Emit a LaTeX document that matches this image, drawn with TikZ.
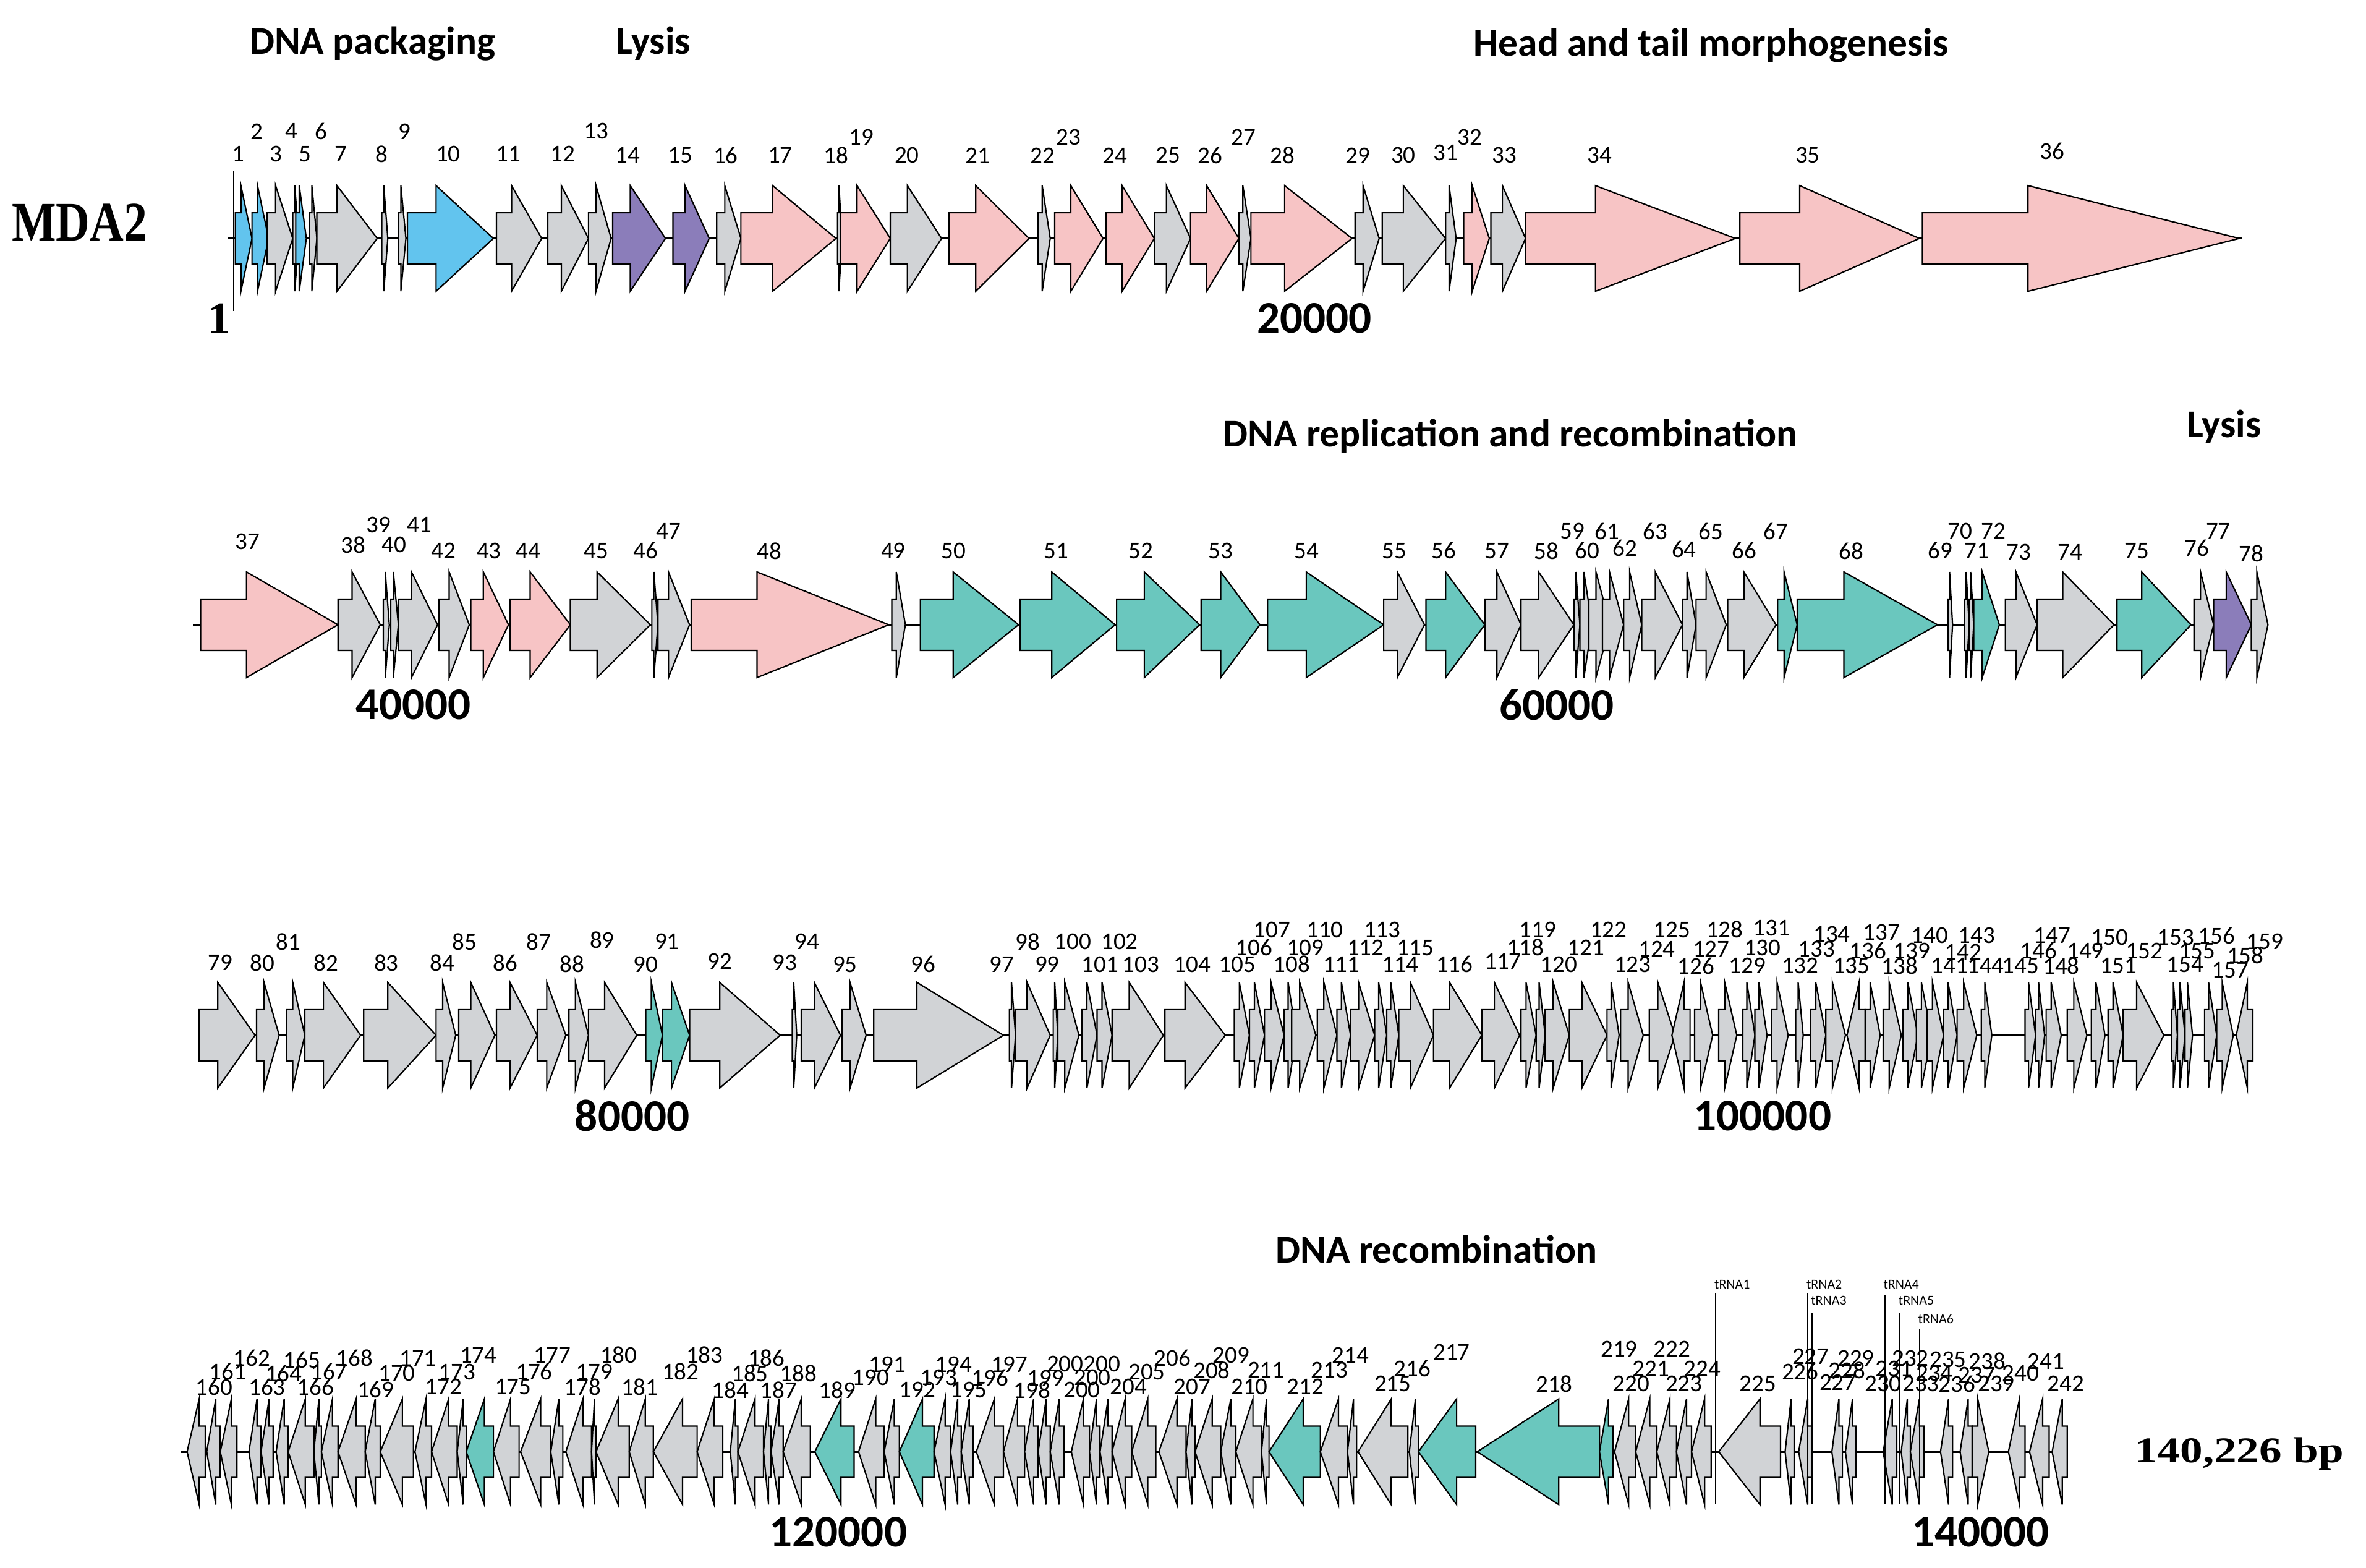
\documentclass[tikz,border=0pt]{standalone}
\usepackage{fontspec}
\setmainfont{Carlito}
\newfontfamily\tnrfont{Liberation Serif}
\definecolor{cg}{RGB}{209,211,214}
\definecolor{cp}{RGB}{247,196,197}
\definecolor{cb}{RGB}{98,196,238}
\definecolor{cv}{RGB}{139,125,186}
\definecolor{ct}{RGB}{106,199,190}
\tikzset{
  genebox/.style={draw=black, line width=0.9pt, line join=miter},
  glab/.style={inner sep=0pt, font=\fontsize{16}{18}\selectfont},
  poslab/.style={inner sep=0pt, font=\fontsize{30}{32}\selectfont\bfseries},
  catlab/.style={inner sep=0pt, anchor=base, font=\fontsize{26}{28}\selectfont\bfseries},
  trnalab/.style={inner sep=0pt, anchor=west, font=\fontsize{9}{10}\selectfont},
  backbone/.style={line width=1.4pt},
  tline/.style={line width=0.9pt}
}
% forward gene: start, tip, axis y, colour
\newcommand{\genef}[4]{%
  \pgfmathsetmacro{\gh}{#1+(#2-#1)/3}%
  \draw[genebox,fill=#4] (#1,#3-17) -- (\gh,#3-17) -- (\gh,#3-35) -- (#2,#3)
     -- (\gh,#3+35) -- (\gh,#3+17) -- (#1,#3+17) -- cycle;}
% reverse gene: tip, end, axis y, colour
\newcommand{\gener}[4]{%
  \pgfmathsetmacro{\gh}{#2-(#2-#1)/3}%
  \draw[genebox,fill=#4] (#2,#3-17) -- (\gh,#3-17) -- (\gh,#3-35) -- (#1,#3)
     -- (\gh,#3+35) -- (\gh,#3+17) -- (#2,#3+17) -- cycle;}
\begin{document}
\begin{tikzpicture}[x=1pt,y=-1pt]
\useasboundingbox (0,0) rectangle (1568,1039);

% ---------- category titles ----------
\node[catlab] (catpack) at (247,36) {DNA packaging};
\node[catlab] (catlys1) at (433,36) {Lysis};
\node[catlab] (cathead) at (1134,37) {Head and tail morphogenesis};
\node[catlab] (catrep) at (1001,296) {DNA replication and recombination};
\node[catlab] (catlys2) at (1474,290) {Lysis};
\node[catlab] (catrec) at (952,837) {DNA recombination};

% ---------- name and size ----------
\node[inner sep=0pt] (mda) at (52.7,147.5) {\scalebox{0.84}[1]{\tnrfont\bfseries\fontsize{37}{40}\selectfont MDA2}};
\node[inner sep=0pt, anchor=base] (size) at (1484,969) {\scalebox{1.25}[1]{\tnrfont\bfseries\fontsize{24}{26}\selectfont 140,226 bp}};

% ---------- backbones ----------
\coordinate (b1s) at (151,158);  \coordinate (b1e) at (1486,158);
\coordinate (b2s) at (128,414);  \coordinate (b2e) at (1503,414);
\coordinate (b3s) at (132,686);  \coordinate (b3e) at (1493,686);
\coordinate (b4s) at (120,962);  \coordinate (b4e) at (1370,962);
\draw[backbone] (b1s) -- (b1e);
\draw[backbone] (b2s) -- (b2e);
\draw[backbone] (b3s) -- (b3e);
\draw[backbone] (b4s) -- (b4e);
\coordinate (m1t) at (155,113); \coordinate (m1b) at (155,206);
\draw[tline] (m1t) -- (m1b);

% ---------- row 1 ----------
\foreach \a/\b/\c in {156/167/cb,167/178/cb,177/194/cg,194/198/cg,196/203/cb,205/210/cg,
  210/250/cg,253/257/cg,264/269/cg,270/327/cb,329/359/cg,363/390/cg,390/405/cg,406/441/cv,
  446/470/cv,475/491/cg,491/554/cp,555/558/cg,557/590/cp,590/624/cg,629/682/cp,688/696/cg,
  699/731/cp,733/765/cp,765/789/cg,789/821/cp,821/829/cg,829/896/cp,898/914/cg,916/958/cg,
  958/965/cg,970/987/cp,988/1011/cg,1011/1150/cp,1153/1272/cp,1274/1484/cp}
  {\genef{\a}{\b}{158}{\c}}
\foreach \t/\x/\y in {1/158/102,2/170/87,3/183/102,4/193/87,5/202/102,6/213/87,7/226/102,
  8/253/102,9/268/87,10/297/102,11/337/102,12/373/102,13/395/87,14/416/103,15/451/103,
  16/481/103,17/517/103,18/554/103,19/571/91,20/601/103,21/648/103,22/691/103,23/708/91,
  24/739/103,25/774/103,26/802/103,27/824/91,28/850/103,29/900/103,30/930/103,31/958/101,
  32/974/91,33/997/103,34/1060/103,35/1198/103,36/1360/100}
  {\node[glab] (r1-\t) at (\x,\y) {\t};}

% ---------- row 2 ----------
\foreach \a/\b/\c in {133/224/cp,224/252/cg,254/258/cg,259/264/cg,264/290/cg,291/311/cg,
  312/337/cp,338/378/cp,378/431/cg,432/436/cg,436/457/cg,458/589/cp,591/600/cg,610/675/ct,
  676/739/ct,740/795/ct,796/835/ct,840/917/ct,917/944/cg,945/984/ct,984/1008/cg,1008/1043/cg,
  1043/1047/cg,1047/1055/cg,1053/1067/cg,1062/1076/cg,1076/1088/cg,1088/1115/cg,1115/1124/cg,
  1124/1144/cg,1145/1177/cg,1178/1191/ct,1191/1284/ct,1291/1294/cg,1302/1305/cg,1305/1308/cg,
  1308/1325/ct,1329/1350/cg,1350/1401/cg,1403/1452/ct,1454/1467/cg,1467/1492/cv,1492/1503/cg}
  {\genef{\a}{\b}{414}{\c}}
\foreach \t/\x/\y in {37/164/359,38/234/361,39/251/348,40/261/361,41/278/348,42/294/365,
  43/324/365,44/350/365,45/395/365,46/428/365,47/443/352,48/510/365,49/592/365,50/632/365,
  51/700/365,52/756/365,53/809/365,54/866/365,55/924/365,56/957/365,57/992/365,58/1025/365,
  59/1042/352,60/1052/365,61/1065/352,62/1077/363,63/1097/352,64/1116/364,65/1134/352,
  66/1156/365,67/1177/352,68/1227/365,69/1286/365,70/1299/352,71/1310/365,72/1321/352,
  73/1338/366,74/1372/366,75/1416/365,76/1456/363,77/1470/352,78/1492/367}
  {\node[glab] (r2-\t) at (\x,\y) {\t};}

% ---------- row 3 ----------
\foreach \a/\b/\c in {132/169/cg,170/185/cg,190/202/cg,202/239/cg,241/289/cg,289/302/cg,
  304/328/cg,329/356/cg,356/375/cg,377/390/cg,390/422/cg,428/439/ct,439/457/ct,457/517/cg,
  525/528/cg,531/557/cg,558/574/cg,579/665/cg,669/673/cg,673/696/cg,698/701/cg,701/715/cg,
  717/727/cg,727/737/cg,737/771/cg,772/812/cg,818/828/cg,828/838/cg,838/851/cg,851/859/cg,
  856/872/cg,873/886/cg,886/895/cg,895/911/cg,911/919/cg,919/927/cg,927/950/cg,950/982/cg,
  982/1007/cg,1008/1018/cg,1018/1024/cg,1024/1040/cg,1040/1065/cg,1065/1073/cg,1074/1089/cg,
  1093/1110/cg,1123/1135/cg,1139/1151/cg,1155/1163/cg,1163/1171/cg,1174/1185/cg,1190/1195/cg,
  1200/1210/cg,1210/1223/cg,1236/1246/cg,1248/1260/cg,1261/1271/cg,1270/1280/cg,1277/1288/cg,
  1288/1297/cg,1297/1310/cg,1313/1320/cg,1342/1349/cg,1349/1355/cg,1356/1366/cg,1370/1383/cg,
  1386/1395/cg,1397/1407/cg,1407/1434/cg,1439/1443/cg,1443/1448/cg,1448/1453/cg,1461/1469/cg,
  1469/1480/cg}
  {\genef{\a}{\b}{686}{\c}}
\foreach \a/\b/\c in {1108/1120/cg,1224/1236/cg,1482/1493/cg}
  {\gener{\a}{\b}{686}{\c}}
\foreach \t/\x/\y in {79/146/638,80/174/638,81/191/624,82/216/638,83/256/638,84/293/638,
  85/308/624,86/335/638,87/357/624,88/379/639,89/399/623,90/428/639,91/442/624,92/477/637,
  93/520/638,94/535/624,95/560/639,96/612/639,97/664/639,98/681/624,99/694/639,100/711/624,
  101/729/639,102/742/624,103/756/639,104/790/639,105/820/639,106/831/628,107/843/616,
  108/856/639,109/865/628,110/878/616,111/889/639,112/905/628,113/916/616,114/928/639,
  115/938/628,116/964/639,117/996/637,118/1011/628,119/1019/616,120/1033/639,121/1051/628,
  122/1066/616,123/1082/639,124/1098/629,125/1108/616,126/1124/640,127/1134/629,128/1143/616,
  129/1158/640,130/1168/628,131/1174/615,132/1193/640,133/1204/629,134/1214/619,135/1227/640,
  136/1238/630,137/1247/618,138/1259/640,139/1267/630,140/1279/620,141/1292/640,142/1301/631,
  143/1310/620,144/1316/640,145/1339/640,146/1351/630,147/1360/620,148/1366/640,149/1382/630,
  150/1398/621,151/1404/640,152/1421/630,153/1442/621,154/1448/639,155/1456/630,156/1469/620,
  157/1478/643,158/1488/633,159/1501/624}
  {\node[glab] (r3-\t) at (\x,\y) {\t};}

% ---------- row 4 ----------
\foreach \a/\b/\c in {124/136/cg,137/146/cg,146/157/cg,165/173/cg,173/181/cg,183/191/cg,
  191/208/cg,208/213/cg,213/224/cg,224/242/cg,242/252/cg,252/274/cg,275/286/cg,286/303/cg,
  303/309/cg,309/327/ct,327/344/cg,345/365/cg,365/373/cg,375/392/cg,392/395/cg,395/417/cg,
  417/433/cg,433/462/cg,462/479/cg,484/489/cg,489/506/cg,506/511/cg,511/519/cg,519/537/cg,
  540/566/ct,569/586/cg,586/596/cg,596/619/ct,619/630/cg,630/637/cg,637/645/cg,647/665/cg,
  665/679/cg,679/688/cg,688/696/cg,696/705/cg,710/722/cg,722/729/cg,729/737/cg,737/750/cg,
  750/766/cg,768/786/cg,786/792/cg,792/809/cg,809/819/cg,819/836/cg,836/841/cg,841/875/ct,
  875/893/cg,893/899/cg,900/933/cg,934/940/cg,940/978/ct,979/1060/ct,1060/1069/ct,
  1070/1084/cg,1084/1098/cg,1098/1111/cg,1111/1121/cg,1121/1134/cg,1139/1180/cg,1183/1189/cg,
  1192/1201/cg,1214/1221/cg,1223/1230/cg,1248/1257/cg,1260/1266/cg,1266/1275/cg,1286/1294/cg,
  1299/1307/cg,1331/1342/cg,1345/1358/cg,1360/1370/cg}
  {\gener{\a}{\b}{962}{\c}}
\genef{1307}{1318}{962}{cg}
\foreach \t/\x/\y in {160/142/919,161/151/909,162/167/900,163/177/919,164/188/910,
  165/200/901,166/209/919,167/218/909,168/235/900,169/249/921,170/263/910,171/277/900,
  172/294/919,173/303/909,174/317/898,175/340/919,176/354/909,177/366/898,178/386/919,
  179/394/909,180/410/898,181/424/919,182/451/909,183/467/898,184/484/921,185/497/910,
  186/508/900,187/516/921,188/529/910,189/555/921,190/577/913,191/588/904,192/608/921,
  193/622/913,194/632/904,195/642/921,196/656/913,197/669/904,198/684/921,199/693/913,
  200200/718/904,200/724/913,200/717/921,204/748/919,205/760/909,206/777/900,207/790/919,
  208/803/908,209/816/898,210/828/919,211/839/908,212/865/919,213/881/908,214/895/898,
  215/923/917,216/936/907,217/962/896,218/1030/917,219/1073/894,220/1081/917,221/1094/907,
  222/1108/894,223/1116/917,224/1128/907,225/1165/917,226/1193/909,227/1200/899,
  227/1218/916,228/1224/908,229/1230/900,230/1248/917,231/1255/907,232/1266/900,
  233/1273/917,234/1282/910,235/1291/901,236/1297/917,237/1310/911,238/1317/902,
  239/1323/917,240/1339/910,241/1356/902,242/1369/917}
  {\node[glab] (r4-\t-\x) at (\x,\y) {\t};}

% ---------- tRNA markers ----------
\foreach \n/\x/\yt/\yl in {1/1137/857/851,2/1198/857/851,3/1201/870/862,
  4/1249/858/851,5/1259/870/862,6/1272/881/874}
  {\coordinate (tt\n) at (\x,\yt); \coordinate (tb\n) at (\x,997);
   \draw[tline] (tt\n) -- (tb\n);
   \node[trnalab] (tl\n) at (\x-1,\yl) {tRNA\n};}

% ---------- position labels ----------
\node[inner sep=0pt] (p1) at (145.5,211) {\tnrfont\bfseries\fontsize{30}{32}\selectfont 1};
\node[poslab] (p20) at (871,211) {20000};
\node[poslab] (p40) at (274,467) {40000};
\node[poslab] (p60) at (1031.7,467) {60000};
\node[poslab] (p80) at (419,739.5) {80000};
\node[poslab] (p100) at (1168,739.5) {100000};
\node[poslab] (p120) at (555.5,1015) {120000};
\node[poslab] (p140) at (1312.5,1015) {140000};
\end{tikzpicture}
\end{document}
